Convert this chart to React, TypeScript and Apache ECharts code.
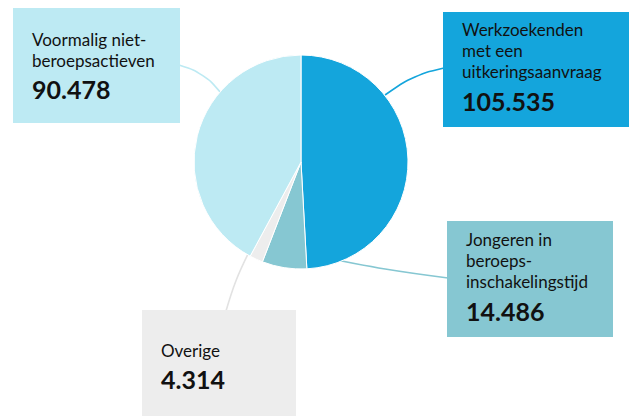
import React, { useEffect, useRef } from "react";
import * as echarts from "echarts";

// Data (clockwise from the top)
const categories = [
  "Werkzoekenden\nmet een\nuitkeringsaanvraag",
  "Jongeren in\nberoeps-\ninschakelingstijd",
  "Overige",
  "Voormalig niet-\nberoepsactieven",
];
const values = [105535, 14486, 4314, 90478];
const colors = ["#14A5DC", "#86C7D2", "#EDEDED", "#BDEAF3"];
const lineColors = ["#14A5DC", "#86C7D2", "#E2E2E2", "#BDEAF3"];

// Layout of the label boxes (positions, sizes)
const boxes = [
  { x: 443, y: 12, w: 186, h: 115, pt: 7 },
  { x: 447, y: 221, w: 166, h: 116, pt: 8 },
  { x: 142, y: 310, w: 154, h: 108, pt: 29.6 },
  { x: 13, y: 8, w: 167, h: 115, pt: 20.6 },
];
const connectors: number[][][] = [
  [[385, 95], [414, 75], [444, 68]],
  [[307, 254], [385, 270], [448, 278]],
  [[250, 250], [235, 280], [226, 311]],
  [[221, 93], [204, 73], [179, 65]],
];

const NAME_LH = 21;
const VAL_LH = 37;

function fmt(v: number): string {
  return String(v).replace(/\B(?=(\d{3})+(?!\d))/g, ".");
}

export default function App() {
  const ref = useRef<HTMLDivElement>(null);
  useEffect(() => {
    if (!ref.current) return;
    const chart = echarts.init(ref.current, undefined, { renderer: "svg" });
    const data = categories.map((name, i) => {
      const b = boxes[i];
      const lines = name.split("\n").length;
      const contentH = lines * NAME_LH + VAL_LH;
      const pb = Math.max(0, b.h - b.pt - contentH);
      return {
        name,
        value: values[i],
        itemStyle: { color: colors[i] },
        label: {
          backgroundColor: colors[i],
          padding: [b.pt, 0, pb, 19],
          width: b.w - 19,
        },
        labelLine: { lineStyle: { color: lineColors[i], width: 1.6 } },
      };
    });
    chart.setOption({
      animation: false,
      backgroundColor: "#ffffff",
      series: [
        {
          type: "pie",
          center: [301, 162],
          radius: 107,
          startAngle: 90,
          clockwise: true,
          avoidLabelOverlap: false,
          itemStyle: { borderColor: "#ffffff", borderWidth: 1 },
          label: {
            show: true,
            position: "outside",
            overflow: "none",
            formatter: (p: any) => `{n|${p.name}}\n{v|${fmt(p.value)}}`,
            rich: {
              n: {
                fontFamily: "Lato",
                fontSize: 17,
                lineHeight: NAME_LH,
                color: "#111111",
              },
              v: {
                fontFamily: "Lato",
                fontSize: 25,
                fontWeight: "bold",
                lineHeight: VAL_LH,
                color: "#111111",
              },
            },
          },
          labelLine: { show: true, smooth: 0.4, length: 10, length2: 10 },
          labelLayout: (params: any) => {
            const i = params.dataIndex;
            const b = boxes[i];
            return {
              x: b.x,
              y: b.y,
              align: "left",
              verticalAlign: "top",
              labelLinePoints: connectors[i],
            };
          },
          emphasis: { disabled: true },
          data,
        },
      ],
    });
    return () => chart.dispose();
  }, []);
  return (
    <div
      ref={ref}
      style={{ position: "fixed", left: 0, top: 0, width: 629, height: 416 }}
    />
  );
}
